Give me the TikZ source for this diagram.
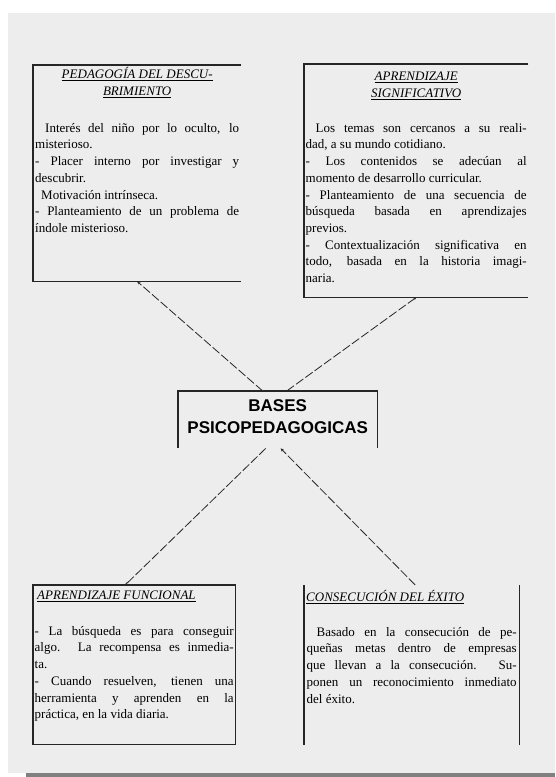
\documentclass[tikz,border=0pt]{standalone}
\usepackage{fontspec}
\setmainfont{Liberation Serif}
\newfontfamily\boxsans{Liberation Sans}
\usetikzlibrary{positioning,arrows.meta}
\definecolor{panelgray}{HTML}{EDEDED}
\definecolor{shadowgray}{HTML}{808080}

\begin{document}
\begin{tikzpicture}[x=1pt, y=-1pt,
    boxframe/.style={inner sep=0pt, anchor=north west},
    boxline/.style={line width=1.1pt, black!85},
    boxtitle/.style={inner sep=0pt, align=center, font=\fontsize{13}{17}\selectfont\itshape},
    boxbody/.style={inner sep=0pt, align=justify, font=\fontsize{13}{16.7}\selectfont},
    link/.style={line width=0.8pt, black!85, dash pattern=on 9pt off 2.5pt},
    linktip/.style={-{Stealth[length=3pt, width=3pt]}}
]
    % Page
    \useasboundingbox (0,0) rectangle (555,777);
    \fill[panelgray] (8,13) rectangle (555,773);
    \fill[shadowgray] (26,773) rectangle (555,777);

    % Frames
    \node[boxframe, minimum width=208pt, minimum height=216pt] (ped) at (33,65) {};
    \node[boxframe, minimum width=224pt, minimum height=233pt] (sig) at (304,64) {};
    \node[boxframe, minimum width=199pt, minimum height=57pt] (bases) at (178,391) {};
    \node[boxframe, minimum width=202pt, minimum height=159pt] (fun) at (33,585) {};
    \node[boxframe, minimum width=215pt, minimum height=160pt] (exi) at (304,585) {};

    \draw[boxline] (ped.north east) -- (ped.north west) -- (ped.south west) -- (ped.south east);
    \draw[boxline] (sig.north east) -- (sig.north west) -- (sig.south west) -- (sig.south east);
    \draw[boxline] (bases.south west) -- (bases.north west) -- (bases.north east) -- (bases.south east);
    \draw[boxline] (fun.north west) rectangle (fun.south east);
    \draw[boxline] (exi.north west) -- (exi.south west);
    \draw[boxline] (exi.north east) -- (exi.south east);

    % Pedagogia del descubrimiento
    \node[boxtitle, below=2pt of ped.north] (pedtitle)
        {\underline{PEDAGOGÍA DEL DESCU-}\\\underline{BRIMIENTO}};
    \node[boxbody, text width=204pt, below=58pt of ped.north] (pedtext)
        {\hspace*{10pt}Interés del niño por lo oculto, lo\linebreak misterioso.\par
         - Placer interno por investigar y\linebreak descubrir.\par
         \hspace*{6pt}Motivación intrínseca.\par
         - Planteamiento de un problema de\linebreak índole misterioso.};

    % Aprendizaje significativo
    \node[boxtitle, below=8pt of sig.north] (sigtitle)
        {\underline{APRENDIZAJE}\\\underline{SIGNIFICATIVO}};
    \node[boxbody, text width=221pt, below=59pt of sig.north] (sigtext)
        {\hspace*{10pt}Los temas son cercanos a su reali-\linebreak dad, a su mundo cotidiano.\par
         - Los contenidos se adecúan al\linebreak momento de desarrollo curricular.\par
         - Planteamiento de una secuencia de\linebreak búsqueda basada en aprendizajes\linebreak previos.\par
         - Contextualización significativa en\linebreak todo, basada en la historia imagi-\linebreak naria.};

    % Centre
    \node[inner sep=0pt, align=center, font=\boxsans\bfseries\fontsize{17}{22}\selectfont,
          below=8pt of bases.north] (basestext) {BASES\\PSICOPEDAGOGICAS};

    % Aprendizaje funcional
    \node[boxtitle, anchor=north west, below right=6pt and 4pt of fun.north west] (funtitle)
        {\underline{APRENDIZAJE FUNCIONAL}};
    \node[boxbody, text width=199pt, below=41pt of fun.north] (funtext)
        {- La búsqueda es para conseguir\linebreak algo. La recompensa es inmedia-\linebreak ta.\par
         - Cuando resuelven, tienen una\linebreak herramienta y aprenden en la\linebreak práctica, en la vida diaria.};

    % Consecucion del exito
    \node[boxtitle, anchor=north west, below right=5pt and 2pt of exi.north west] (exititle)
        {\underline{CONSECUCIÓN DEL ÉXITO}};
    \node[boxbody, text width=210pt, below=42pt of exi.north] (exitext)
        {\hspace*{10pt}Basado en la consecución de pe-\linebreak queñas metas dentro de empresas\linebreak
         que llevan a la consecución. Su-\linebreak ponen un reconocimiento inmediato\linebreak del éxito.};

    % Links
    \draw[link, linktip] ([xshift=-15pt]bases.north) -- (ped.south);
    \draw[link, linktip] ([xshift=9pt]bases.north) -- (sig.south);
    \draw[link, linktip] ([xshift=-12pt]bases.south) -- ([xshift=-9pt]fun.north);
    \draw[link, linktip] ([xshift=3.5pt]exi.north) -- ([xshift=3pt]bases.south);
\end{tikzpicture}
\end{document}
